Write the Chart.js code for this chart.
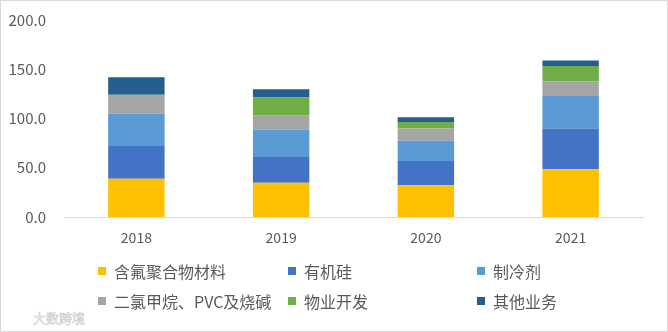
<!DOCTYPE html>
<html>
<head>
<meta charset="utf-8">
<script src="https://cdn.jsdelivr.net/npm/chart.js@4"></script>
<style>
  html, body { margin: 0; padding: 0; background: #fff; }
  #wrap { position: relative; width: 668px; height: 332px; box-sizing: border-box; border: 1px solid #d9d9d9; }
  canvas { position: absolute; left: 0; top: 0; }
  #mark { position: absolute; left: 32px; top: 307px; font: 13px "Noto Sans CJK SC"; color: #fff;
          -webkit-text-stroke: 0.6px #c8c8c8; }
</style>
</head>
<body>
<div id="wrap">
  <canvas id="myChart" width="668" height="332"></canvas>
  <div id="mark">大数跨境</div>
</div>
<script>
const years = ["2018", "2019", "2020", "2021"];
const yTicks = [0, 50, 100, 150, 200];

const fluoroPolymer = [38.8, 34.8, 32.2, 48.5];
const silicone = [33.4, 26.0, 24.6, 41.3];
const refrigerant = [33.0, 27.7, 20.7, 33.0];
const chloromethane = [18.0, 14.7, 12.3, 15.0];
const property = [0.8, 18.0, 6.7, 15.4];
const otherBiz = [18.0, 8.6, 4.7, 5.6];

const names = ["含氟聚合物材料", "有机硅", "制冷剂", "二氯甲烷、PVC及烧碱", "物业开发", "其他业务"];
const colors = ["#FFC000", "#4472C4", "#5B9BD5", "#A5A5A5", "#70AD47", "#255E91"];
const series = [fluoroPolymer, silicone, refrigerant, chloromethane, property, otherBiz];

const font = '"Noto Sans CJK SC", "Noto Sans", sans-serif';
const textColor = "#595959";

// legend laid out as a 3x2 grid under the axis
const legendGrid = {
  id: "legendGrid",
  afterDraw(chart) {
    const c = chart.ctx;
    const cols = [97, 287, 476];
    const rows = [270, 300];
    c.save();
    c.font = "16px " + font;
    c.textBaseline = "middle";
    chart.data.datasets.forEach((ds, i) => {
      const x = cols[i % 3];
      const y = rows[Math.floor(i / 3)];
      c.fillStyle = ds.backgroundColor;
      c.fillRect(x, y - 4, 8, 8);
      c.fillStyle = textColor;
      c.fillText(ds.label, x + 16, y + 1);
    });
    c.restore();
  },
};

const ctx = document.getElementById("myChart").getContext("2d");

new Chart(ctx, {
  type: "bar",
  data: {
    labels: years,
    datasets: series.map((d, i) => ({
      label: names[i],
      data: d,
      backgroundColor: colors[i],
      borderWidth: 0,
    })),
  },
  options: {
    responsive: false,
    animation: false,
    layout: { padding: { left: 0, right: 26, top: 17, bottom: 76 } },
    datasets: { bar: { categoryPercentage: 1, barPercentage: 0.39 } },
    scales: {
      x: {
        stacked: true,
        grid: { display: false },
        border: { color: "#d9d9d9", width: 1 },
        ticks: { color: textColor, font: { family: font, size: 14 }, padding: 4 },
        afterFit(scale) { scale.height = 40; },
      },
      y: {
        stacked: true,
        min: 0,
        max: 200,
        afterBuildTicks(scale) { scale.ticks = yTicks.map((v) => ({ value: v })); },
        grid: { display: false },
        border: { display: false },
        ticks: {
          color: textColor,
          font: { family: font, size: 15 },
          padding: 10,
          callback: (v) => v.toFixed(1),
        },
        afterFit(scale) { scale.width = 63; },
      },
    },
    plugins: {
      legend: { display: false },
      tooltip: { enabled: false },
    },
  },
  plugins: [legendGrid],
});
</script>
</body>
</html>
